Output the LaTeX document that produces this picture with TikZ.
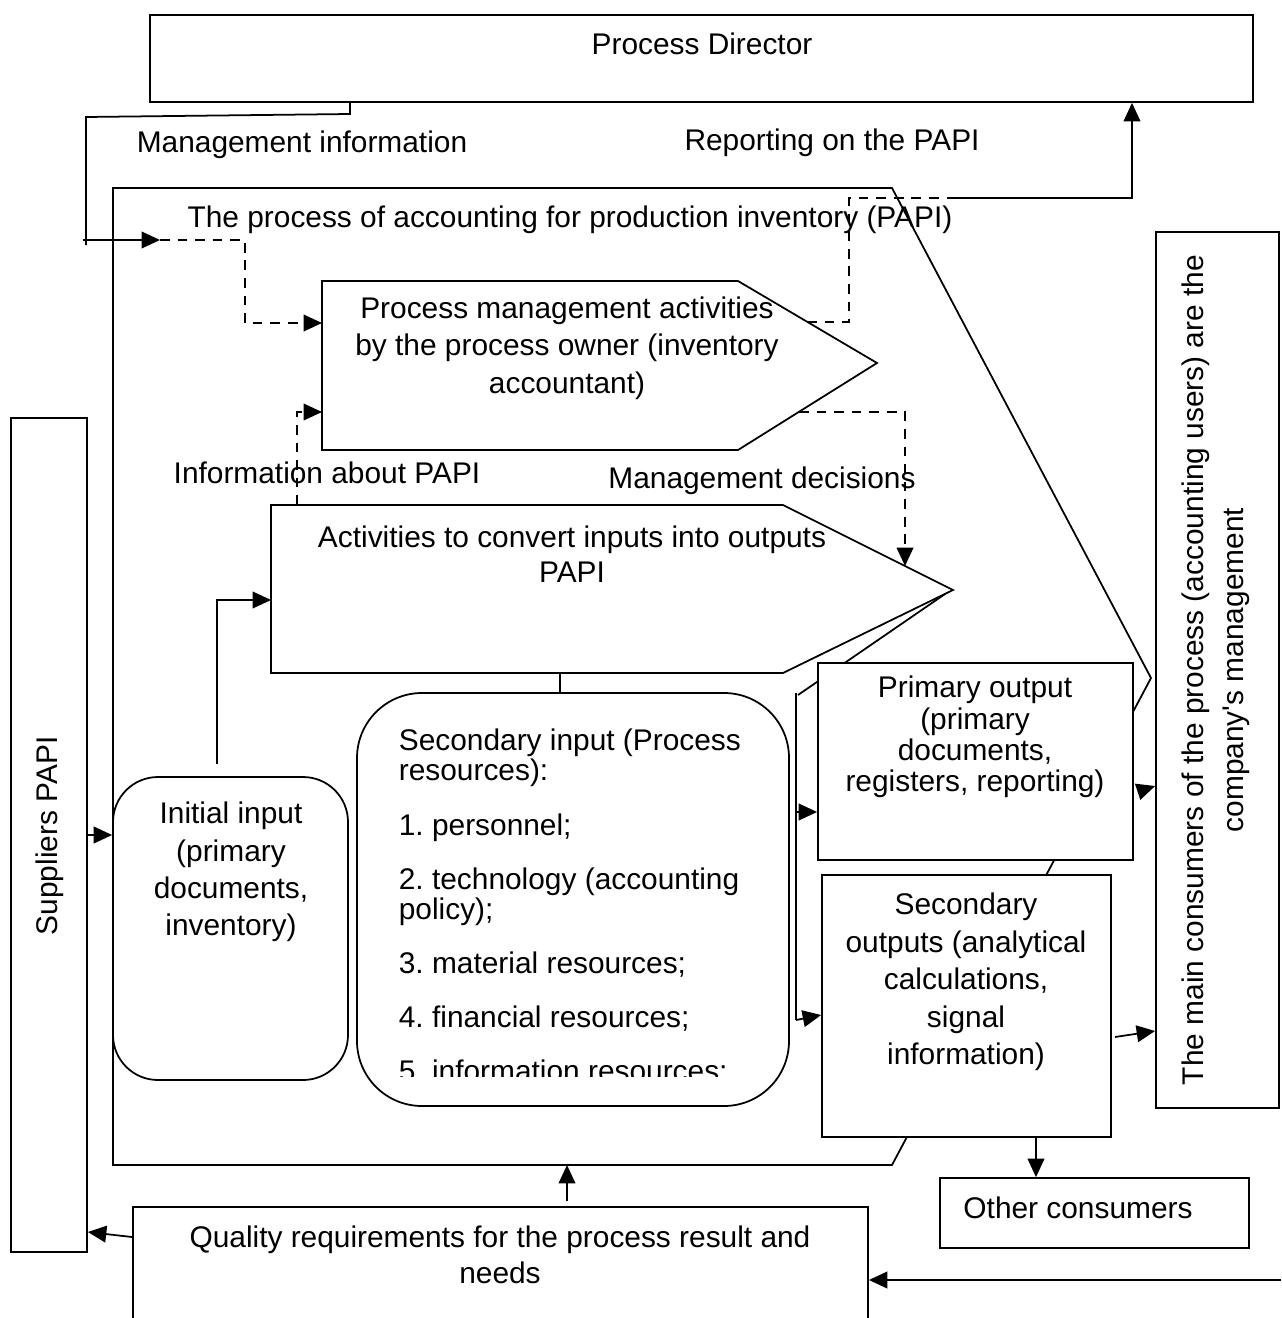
\documentclass[tikz,border=0pt]{standalone}
\usepackage{fontspec}
\setmainfont{Liberation Sans}
\usetikzlibrary{arrows.meta,positioning,fit}
\tikzset{
  box/.style={draw,fill=white,line width=1pt,inner sep=0pt},
  rbox/.style={box,rounded corners=0.9cm},
  flow/.style={line width=1pt,-{Triangle[length=10.5pt,width=9.5pt]}},
  dflow/.style={flow,dash pattern=on 5.5pt off 4.5pt},
  dline/.style={line width=1pt,dash pattern=on 5.5pt off 4.5pt},
  lbl/.style={align=center,inner sep=0pt},
}
\frenchspacing
\begin{document}
\begin{tikzpicture}[x=0.02cm,y=-0.02cm,line width=1pt,font=\fontsize{17}{21.3}\selectfont]
  \clip (0,0) rectangle (1281,1318);
  % director and the process itself
  \node[box,fit={(150,15) (1253,102)}] (director) {};
  \node[lbl] (directortxt) at (702,44) {Process Director};
  \draw (113,188) -- (892,188) -- (1151,678) -- (892,1165) -- (113,1165) -- cycle;
  \node[lbl] (papi) at (570,220) {The process of accounting for production inventory (PAPI)};
  \coordinate (mientry) at (160,240);
  \coordinate (papibot) at (567,1165);

  % owner and conversion activities
  \draw (322,281) -- (738,281) -- (877,363) -- (738,450) -- (322,450) -- cycle;
  \node[lbl] (owner) at (567,348) {Process management activities\\by the process owner (inventory\\accountant)};
  \draw (271,505) -- (783,505) -- (953,590) -- (783,673) -- (271,673) -- cycle;
  \node[lbl,font=\fontsize{17}{19.9}\selectfont] (convert) at (572,554) {Activities to convert inputs into outputs\\PAPI};
  \coordinate (ownerin) at (322,323);
  \coordinate (ownerinfo) at (322,412);
  \coordinate (convtop) at (297,505);
  \coordinate (convin) at (271,600);
  \coordinate (convdec) at (905,566);
  \coordinate (convbot) at (560,673);
  \coordinate (ownerrep) at (807,322);
  \coordinate (ownerdec) at (799,412);

  % inputs
  \node[box,fit={(11,418) (87,1252)}] (suppliers) {};
  \node[lbl,rotate=90] (supplierstxt) at (50,836) {Suppliers PAPI};
  \node[rbox,fit={(113,777) (348,1080)}] (initin) {};
  \node[lbl] (initintxt) at (231,872) {Initial input\\(primary\\documents,\\inventory)};
  \node[rbox,rounded corners=1.3cm,fit={(357,693) (789,1106)}] (secin) {};
  \begin{scope}
    \clip (357,693) rectangle (789,1076);
    \node[inner sep=0pt,align=left,anchor=north west,font=\fontsize{17}{17}\selectfont] (secintxt) at (398,728)
      {Secondary input (Process\\resources):\\[14.2pt]1. personnel;\\[13.8pt]2. technology (accounting\\policy);\\[13.8pt]3. material resources;\\[13.8pt]4. financial resources;\\[13.8pt]5. information resources;};
  \end{scope}

  % outputs and consumers
  \draw (945,594) -- (798,695);
  \node[box,fit={(818,663) (1133,860)}] (primout) {};
  \node[lbl,font=\fontsize{17}{17.8}\selectfont] (primouttxt) at (975,737) {Primary output\\(primary\\documents,\\registers, reporting)};
  \node[box,fit={(822,875) (1111,1137)}] (secout) {};
  \node[lbl] (secouttxt) at (966,982) {Secondary\\outputs (analytical\\calculations,\\signal\\information)};
  \node[box,fit={(1156,232) (1279,1108)}] (consumers) {};
  \node[lbl,rotate=90,font=\fontsize{17}{22.7}\selectfont] (consumerstxt) at (1216,670) {The main consumers of the process (accounting users) are the\\company\textquotesingle s management};
  \node[box,fit={(940,1178) (1249,1248)}] (others) {};
  \node[lbl] (otherstxt) at (1078,1208) {Other consumers};
  \node[box,fit={(133,1207) (868,1340)}] (quality) {};
  \node[lbl,font=\fontsize{17}{20.4}\selectfont] (qualitytxt) at (500,1255) {Quality requirements for the process result and\\needs};

  % labels
  \node[lbl] (mgmtinfo) at (302,145) {Management information};
  \node[lbl] (reporting) at (832,143) {Reporting on the PAPI};
  \node[lbl] (infopapi) at (327,473) {Information about PAPI};
  \node[lbl] (decisions) at (762,481) {Management decisions};

  % connectors
  \draw (director.south -| 350,0) -- (350,114) -- (86,117) -- (86,245);
  \draw[flow] (83,240) -- (mientry);
  \draw[dflow] (mientry) -- (245,240) |- (ownerin);
  \draw[dline] (ownerrep) -| (849,198) -- (952,198);
  \draw[flow] (952,198) -| (director.south -| 1132,0);
  \draw[dflow] (convtop) |- (ownerinfo);
  \draw[dflow] (ownerdec) -| (convdec);
  \draw[flow] (initin.north -| 217,0) ++(0,-12) |- (convin);
  \draw (convbot) -- (secin.north -| convbot);
  \draw[flow] (suppliers.east |- 0,835) -- (initin.west |- 0,835);
  \draw (796,693) -- (796,1020);
  \draw[flow] (796,812) -- (primout.west |- 0,812);
  \draw[flow] (796,1020) -- (secout.west |- 0,1015);
  \draw[flow] (1140,791) -- (consumers.west |- 0,786);
  \draw[flow] (1115,1037) -- (consumers.west |- 0,1031);
  \draw[flow] (secout.south -| 1036,0) -- (others.north -| 1036,0);
  \draw[flow] (567,1201) -- (papibot);
  \draw[flow] (quality.west |- 0,1237) -- (suppliers.east |- 0,1232);
  \draw[flow] (1281,1280) -- (quality.east |- 0,1280);
\end{tikzpicture}
\end{document}
